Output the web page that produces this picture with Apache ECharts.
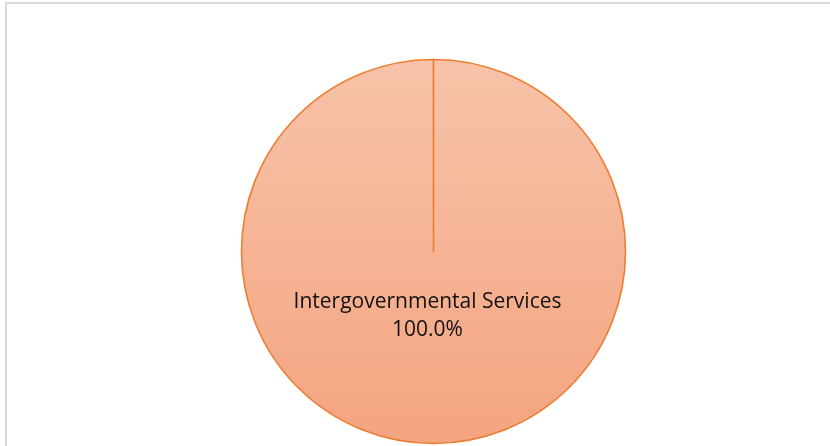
<!DOCTYPE html>
<html>
<head>
<meta charset="utf-8">
<script src="https://cdn.jsdelivr.net/npm/echarts@6/dist/echarts.min.js"></script>
<style>
  html, body { margin: 0; padding: 0; background: #fff; overflow: hidden; }
  #frame { position: absolute; left: 5px; top: 2px; width: 900px; height: 500px;
           border: 2px solid #d9d9d9; box-sizing: border-box; }
  #chart { position: absolute; left: 0; top: 0; width: 830px; height: 446px; }
</style>
</head>
<body>
<div id="frame"></div>
<div id="chart"></div>
<script>
// Revenue share by category
const categories = ['Intergovernmental Services'];
const shares = [100.0];

const chart = echarts.init(document.getElementById('chart'), null, { renderer: 'canvas' });

const pieData = categories.map((name, i) => ({ name: name, value: shares[i] }));

chart.setOption({
  animation: false,
  series: [{
    type: 'pie',
    center: [433.5, 251.5],
    radius: 192,
    startAngle: 90,
    // stop just short of a full turn so the slice keeps its radial edge
    endAngle: 90 - 359.97,
    clockwise: true,
    silent: true,
    data: pieData,
    itemStyle: {
      color: {
        type: 'linear', x: 0, y: 0, x2: 0, y2: 1,
        colorStops: [
          { offset: 0, color: '#f7c3a9' },
          { offset: 1, color: '#f4a480' }
        ]
      },
      borderColor: '#ed7d31',
      borderWidth: 1.6
    },
    label: {
      show: true,
      position: 'inside',
      formatter: p => p.name + '\n' + p.value.toFixed(1) + '%',
      fontFamily: 'Open Sans',
      fontSize: 21,
      lineHeight: 28,
      color: '#111'
    },
    labelLayout: { dx: -6, dy: -34 },
    labelLine: { show: false }
  }]
});
</script>
</body>
</html>
